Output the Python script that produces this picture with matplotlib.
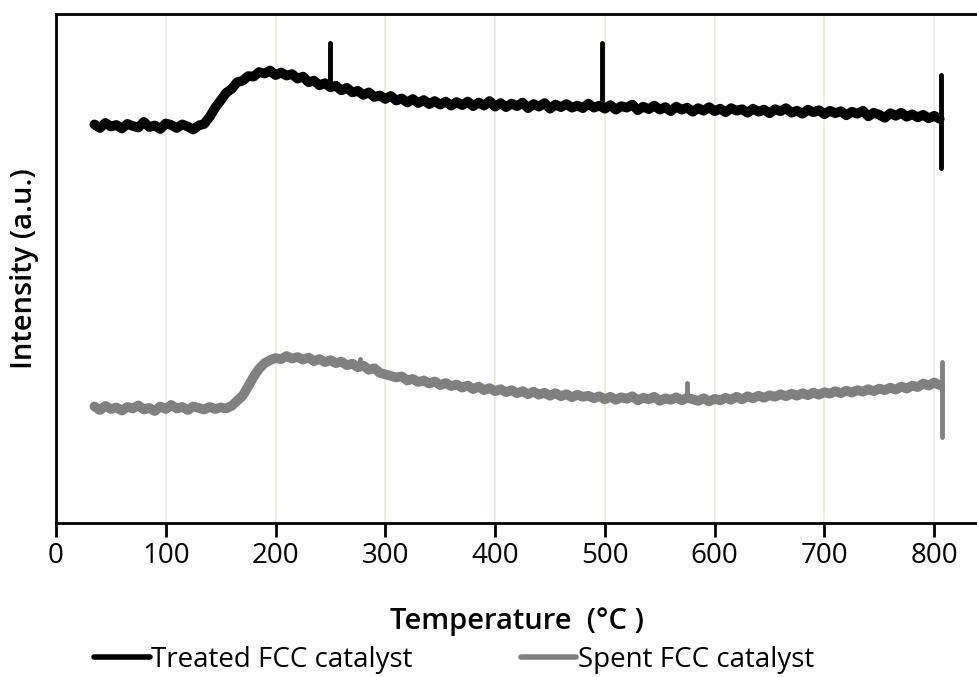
import numpy as np
import matplotlib
matplotlib.use('agg')
import matplotlib.pyplot as plt

# TPD-like profiles (arbitrary intensity units, 5 degC steps)
temp_start = 35
temp_step = 5

treated = [
    78.3, 77.6, 78.6, 77.9, 78.2, 77.5, 78.4, 78.0, 77.7, 78.8,
    77.8, 78.1, 77.4, 78.5, 78.2, 77.6, 78.3, 77.9, 77.3, 78.1,
    78.4, 79.8, 81.6, 83.0, 84.5, 85.3, 86.6, 86.9, 87.8, 87.7,
    88.6, 88.3, 88.9, 88.0, 88.5, 87.9, 88.2, 87.3, 87.7, 86.6,
    86.9, 86.0, 86.4, 85.6, 85.9, 85.0, 85.5, 84.6, 84.9, 84.1,
    84.6, 83.7, 84.0, 83.3, 83.9, 83.0, 83.4, 82.6, 83.3, 82.5,
    83.1, 82.3, 82.9, 82.2, 82.8, 82.0, 82.7, 82.1, 82.8, 81.9,
    82.6, 82.0, 82.9, 81.8, 82.5, 81.7, 82.4, 81.9, 82.6, 81.5,
    82.3, 81.8, 82.5, 81.4, 82.2, 81.7, 82.3, 81.6, 82.0, 81.5,
    82.4, 81.6, 82.0, 81.4, 82.1, 81.2, 81.9, 81.6, 82.2, 81.1,
    81.8, 81.3, 82.0, 81.2, 81.7, 80.9, 81.8, 81.2, 81.6, 80.8,
    81.5, 81.0, 81.7, 80.9, 81.4, 80.7, 81.5, 81.0, 81.3, 80.6,
    81.4, 80.8, 81.2, 80.5, 81.3, 80.9, 81.5, 80.6, 81.0, 80.4,
    81.2, 80.7, 81.1, 80.3, 81.0, 80.5, 80.9, 80.1, 80.8, 80.4,
    81.0, 79.9, 80.6, 80.2, 79.6, 80.5, 80.0, 80.6, 79.8, 80.3,
    79.7, 80.2, 79.5, 80.0, 79.4,
]

spent = [
    22.9, 22.2, 23.0, 22.4, 22.7, 22.1, 22.8, 22.5, 23.1, 22.3,
    22.6, 22.0, 22.9, 22.4, 23.2, 22.5, 22.8, 22.2, 22.9, 22.6,
    22.3, 22.8, 22.4, 22.7, 22.5, 23.0, 24.0, 25.0, 26.8, 28.7,
    30.3, 31.4, 32.0, 32.4, 32.2, 32.8, 32.3, 32.6, 32.1, 32.5,
    31.8, 32.2, 31.6, 32.0, 31.4, 31.7, 31.0, 31.3, 30.6, 30.9,
    30.1, 30.4, 29.5, 29.2, 28.9, 28.6, 28.8, 28.0, 28.3, 27.7,
    28.0, 27.4, 27.8, 27.1, 27.5, 26.9, 27.2, 26.6, 27.0, 26.3,
    26.8, 26.1, 26.5, 25.9, 26.3, 25.7, 26.1, 25.5, 25.9, 25.3,
    25.8, 25.2, 25.6, 25.0, 25.5, 24.9, 25.3, 24.7, 25.2, 24.8,
    25.0, 24.5, 24.9, 24.3, 24.8, 24.2, 24.7, 24.4, 24.9, 24.1,
    24.6, 24.3, 24.8, 24.0, 24.5, 24.2, 24.7, 24.1, 24.6, 24.3,
    24.0, 24.5, 23.9, 24.4, 24.1, 24.6, 24.2, 24.8, 24.3, 24.9,
    24.5, 25.0, 24.6, 25.1, 24.8, 25.3, 24.9, 25.4, 25.0, 25.5,
    25.1, 25.6, 25.2, 25.7, 25.4, 25.9, 25.5, 26.0, 25.6, 26.1,
    25.8, 26.3, 25.9, 26.4, 26.1, 26.6, 26.2, 26.8, 26.4, 27.0,
    26.7, 27.4, 27.0, 27.6, 27.1,
]

# narrow spikes (temperature, low, high)
treated_spike_t = [250, 497, 806]
treated_spike_lo = [85.6, 81.6, 69.7]
treated_spike_hi = [94.3, 94.3, 88.0]

spent_spike_t = [277, 575, 807]
spent_spike_lo = [30.9, 24.3, 16.9]
spent_spike_hi = [32.3, 27.5, 31.6]

x_ticks = [0, 100, 200, 300, 400, 500, 600, 700, 800]

temps_treated = temp_start + temp_step * np.arange(len(treated))
temps_spent = temp_start + temp_step * np.arange(len(spent))

plt.rcParams['font.family'] = ['Open Sans', 'DejaVu Sans']

fig = plt.figure(figsize=(9.77, 6.77), dpi=100)
ax = fig.add_axes([56 / 977, 1 - 523 / 677, 921 / 977, 509 / 677])

lw = 7.0
ax.plot(temps_treated, treated, color='black', lw=lw, solid_joinstyle='round',
        solid_capstyle='round', label='Treated FCC catalyst', zorder=3)
ax.plot(temps_spent, spent, color='#808080', lw=lw, solid_joinstyle='round',
        solid_capstyle='round', label='Spent FCC catalyst', zorder=3)
ax.vlines(treated_spike_t, treated_spike_lo, treated_spike_hi, color='black',
          lw=3.5, capstyle='round', zorder=3)
ax.vlines(spent_spike_t, spent_spike_lo, spent_spike_hi, color='#808080',
          lw=3.5, capstyle='round', zorder=3)

ax.set_xlim(0, 839)
ax.set_ylim(0, 100)
ax.set_xticks(x_ticks)
ax.set_yticks([])
ax.grid(axis='x', color='#eeeadf', lw=1.3, zorder=0)

for side in ['left', 'bottom', 'top']:
    ax.spines[side].set_linewidth(2.0)
    ax.spines[side].set_color('black')
ax.spines['right'].set_visible(False)

ax.tick_params(axis='x', direction='out', length=10, width=2, pad=4,
               labelsize=20, colors='black')

ax.set_xlabel('Temperature  (\u00b0C )', fontsize=21, fontweight='semibold', labelpad=26)
ax.set_ylabel('Intensity (a.u.)', fontsize=21, fontweight='semibold', labelpad=12)

leg = fig.legend(loc='center left', bbox_to_anchor=(94 / 977, 1 - 660 / 677), ncol=2,
                 frameon=False, fontsize=20, handlelength=2.0, handletextpad=0.05,
                 columnspacing=3.9, borderaxespad=0.0, borderpad=0.0)
for line in leg.get_lines():
    line.set_linewidth(4.0)

fig.savefig('out.png', dpi=100, facecolor='white')
